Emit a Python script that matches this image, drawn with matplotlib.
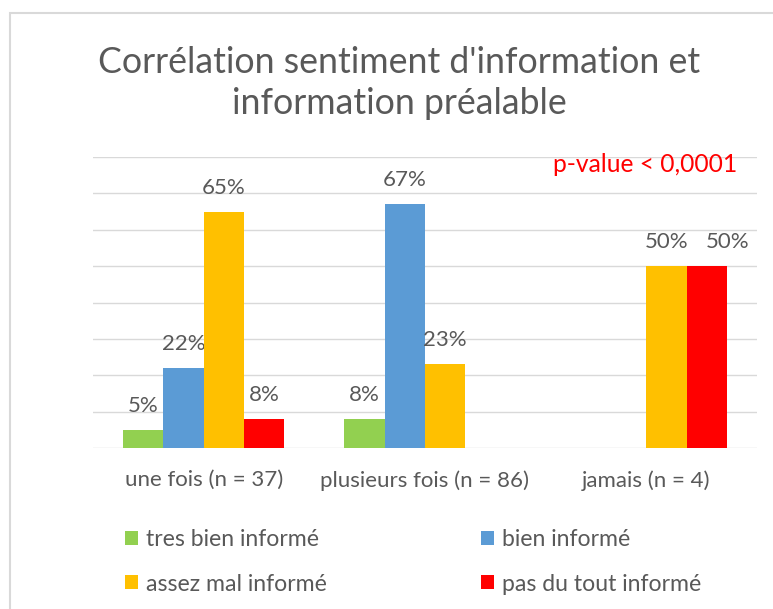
import matplotlib
matplotlib.use('Agg')
import matplotlib.pyplot as plt
import numpy as np
from matplotlib.patches import Rectangle

categories = ['une fois (n = 37)', 'plusieurs fois (n = 86)', 'jamais (n = 4)']
series_names = ['tres bien informé', 'bien informé', 'assez mal informé', 'pas du tout informé']
# proportions par catégorie (0 = pas de barre)
tres_bien = [0.05, 0.08, 0.0]
bien = [0.22, 0.67, 0.0]
assez_mal = [0.65, 0.23, 0.50]
pas_du_tout = [0.08, 0.0, 0.50]
colors = ['#92D050', '#5B9BD5', '#FFC000', '#FF0000']

title = "Corrélation sentiment d'information et\ninformation préalable"
pvalue_text = 'p-value < 0,0001'

plt.rcParams['font.family'] = ['Lato', 'DejaVu Sans']
text_gray = '#595959'

fig = plt.figure(figsize=(7.73, 6.09), dpi=100)
ax = fig.add_axes([93 / 773, 1 - 448 / 609, 664 / 773, (448 - 157) / 609])

# cadre du graphique (seuls le haut et la gauche sont visibles)
fig.patches.append(Rectangle((10 / 773, -0.1), 1.2, 1 - 13 / 609 + 0.1,
                             transform=fig.transFigure, fill=False,
                             edgecolor='#D9D9D9', linewidth=1.5))

# Excel decale l'etiquette qui chevauche sa voisine (serie, categorie) -> points
label_shift = {(3, 2): 15}

all_series = [tres_bien, bien, assez_mal, pas_du_tout]
x = np.arange(len(categories))
width = 0.182
for i, (vals, name, c) in enumerate(zip(all_series, series_names, colors)):
    pos = x + (i - 1.5) * width
    ax.bar(pos, vals, width, color=c, label=name, zorder=3)
    for j, (p, v) in enumerate(zip(pos, vals)):
        if v > 0:
            ax.annotate('{:.0%}'.format(v), (p, v),
                        xytext=(label_shift.get((i, j), 0), 13),
                        textcoords='offset points', ha='center', va='baseline',
                        fontsize=16, color=text_gray)

ax.set_xlim(-0.5, 2.5)
ax.set_ylim(0, 0.8)
ax.set_yticks(np.arange(0, 0.81, 0.1))
ax.set_yticklabels([])
ax.tick_params(axis='y', length=0)
ax.tick_params(axis='x', length=0, pad=16, labelsize=16, labelcolor=text_gray)
ax.set_xticks(x)
ax.set_xticklabels(categories)
ax.grid(axis='y', color='#D9D9D9', linewidth=1, zorder=0)
for s in ax.spines.values():
    s.set_visible(False)

fig.text(399 / 773, 1 - 83 / 609, title, ha='center', va='center', fontsize=25.7,
         color=text_gray, linespacing=1.3)
fig.text(737 / 773, 1 - 164 / 609, pvalue_text, ha='right', va='center',
         fontsize=17.7, color='#FF0000')

# ordre ligne par ligne comme dans Excel
handles, labels = ax.get_legend_handles_labels()
order = [0, 2, 1, 3]
leg = fig.legend([handles[k] for k in order], [labels[k] for k in order],
                 ncol=2, loc='center left',
                 bbox_to_anchor=(125 / 773, 1 - 562 / 609), frameon=False,
                 fontsize=16.6, handlelength=0.55, handleheight=0.55,
                 handletextpad=0.35, columnspacing=6.7, labelspacing=1.0,
                 borderpad=0, borderaxespad=0, labelcolor=text_gray)

fig.savefig('out.png', dpi=100)
